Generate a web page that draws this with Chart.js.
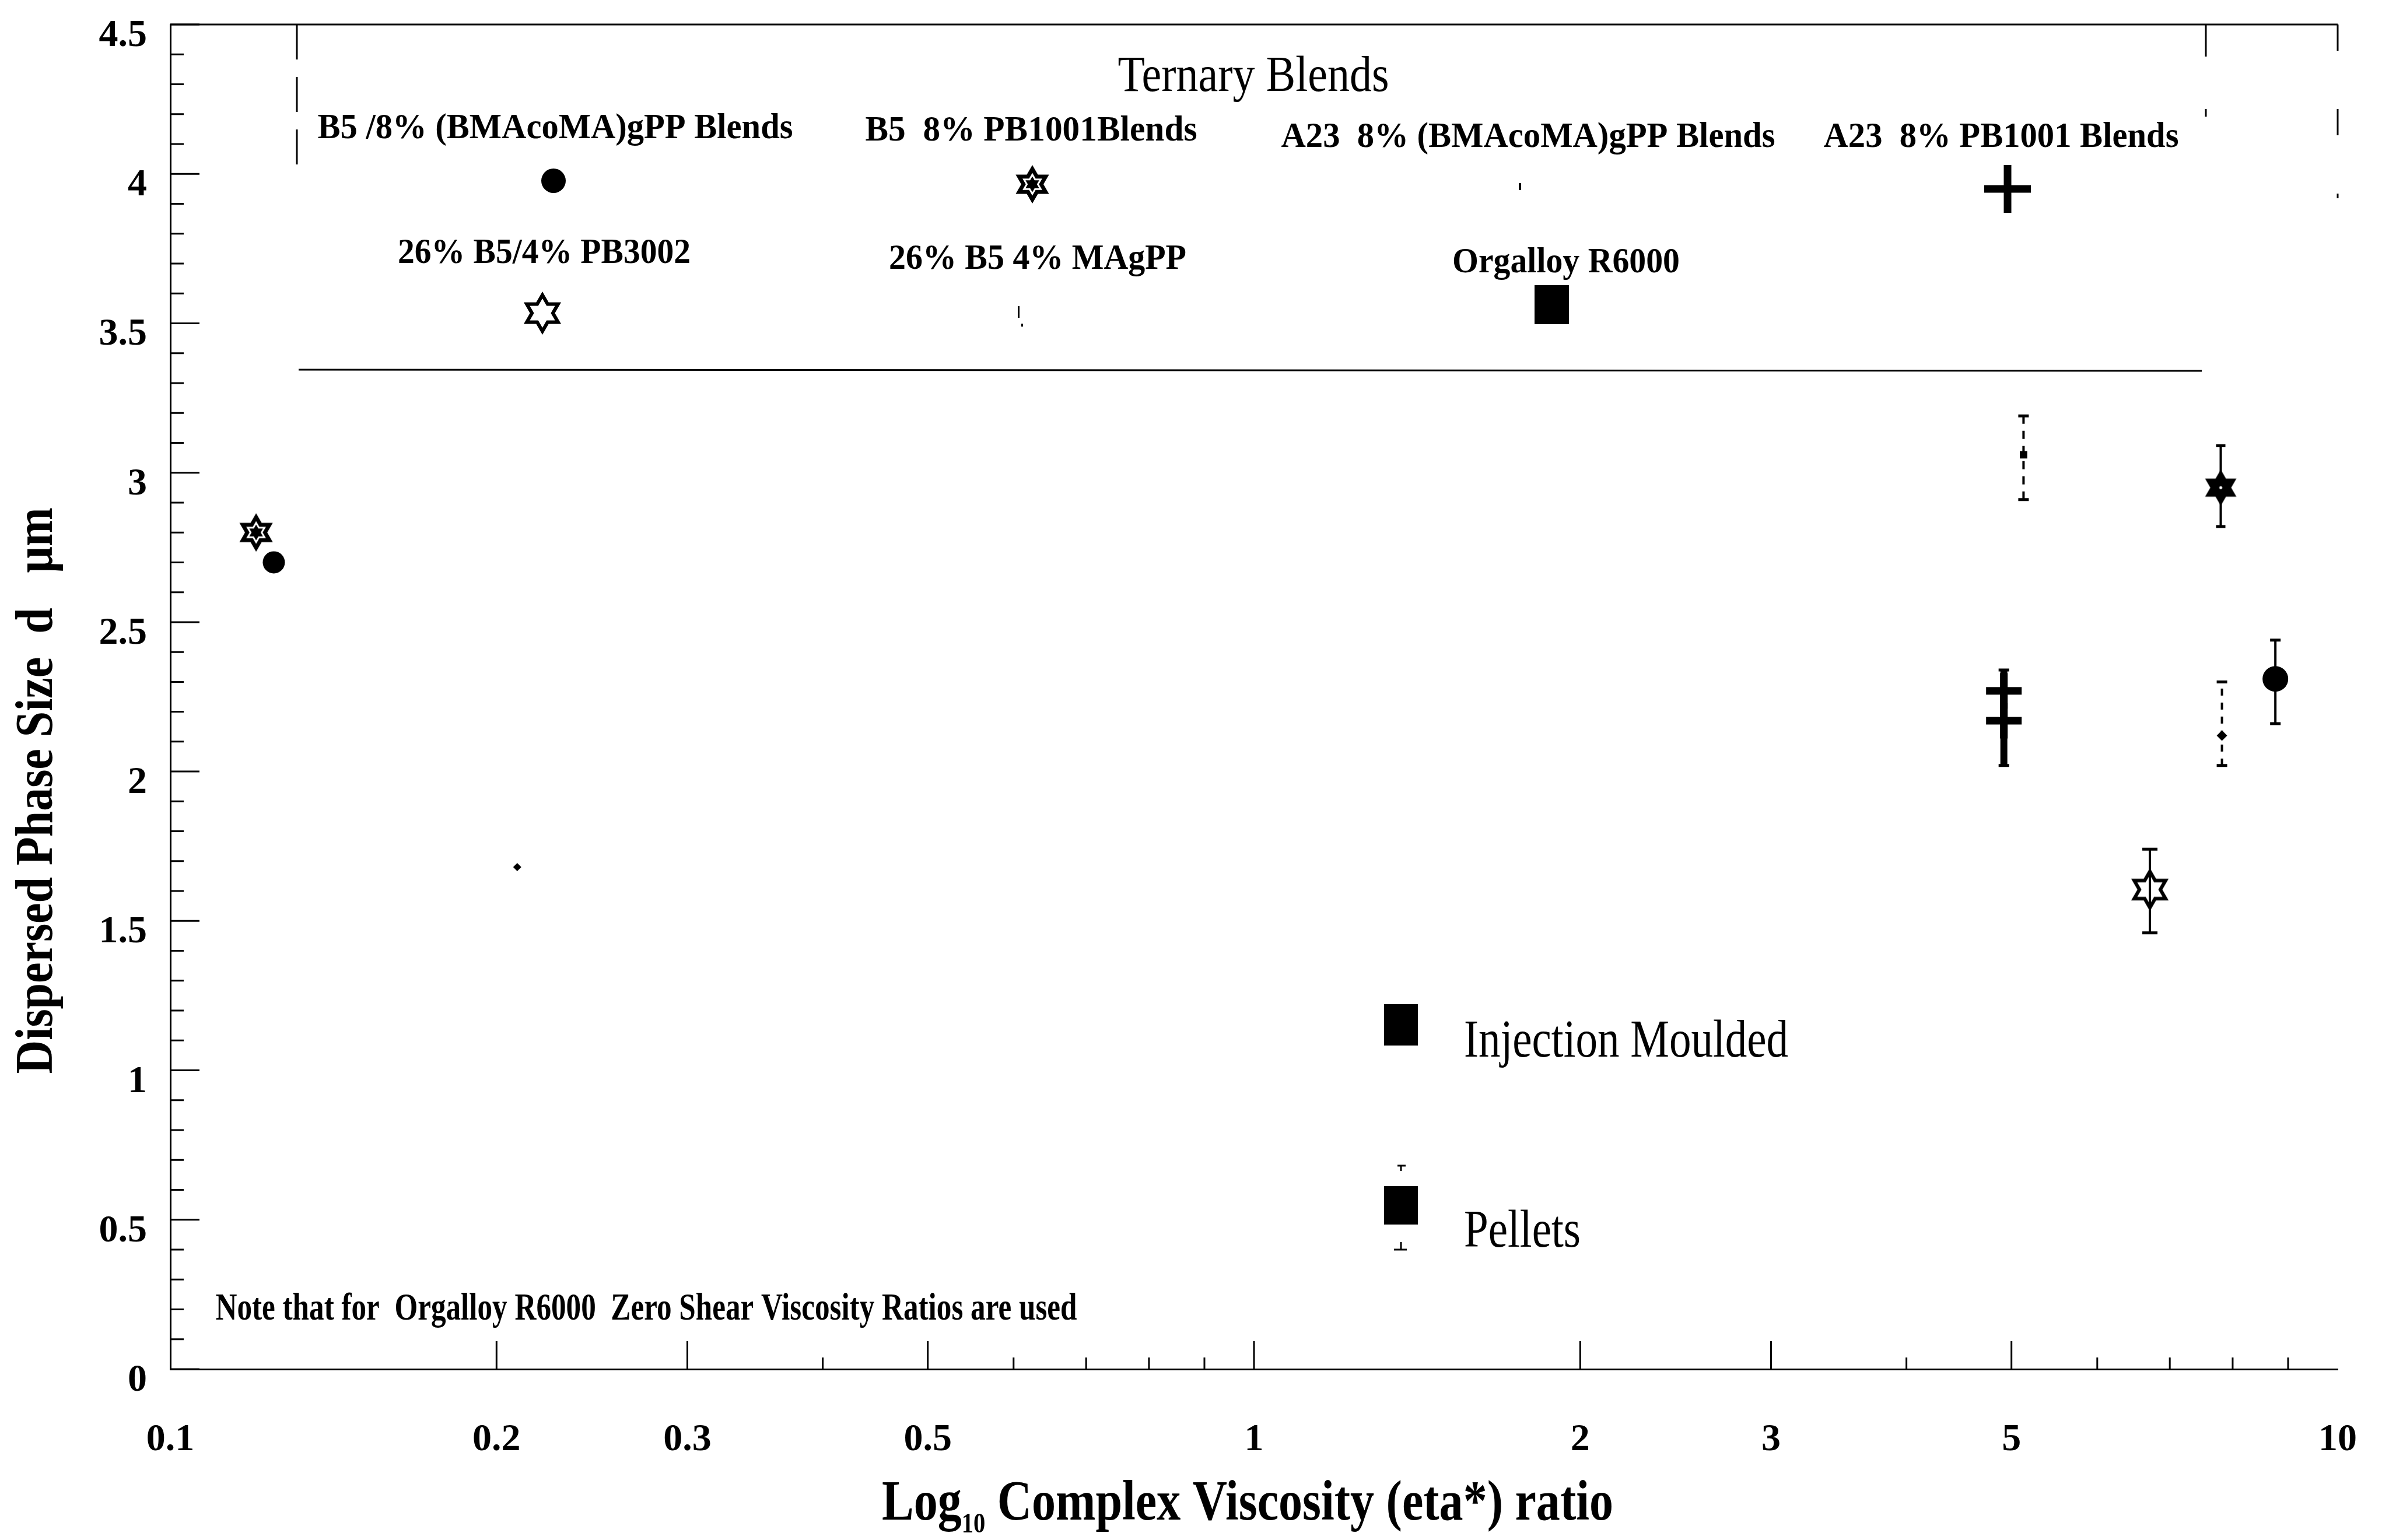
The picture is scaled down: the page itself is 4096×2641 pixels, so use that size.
<!DOCTYPE html>
<html>
<head>
<meta charset="utf-8">
<title>Dispersed Phase Size vs Complex Viscosity Ratio</title>
<script src="https://cdn.jsdelivr.net/npm/chart.js@4.4.1/dist/chart.umd.min.js"></script>
<style>
  html, body { margin: 0; padding: 0; background: #fff; }
  canvas { display: block; }
</style>
</head>
<body>
<canvas id="phaseChart" width="4096" height="2641"></canvas>
<script>
/* ============================================
   Dispersed phase size d (um) vs log10 eta* ratio
   values
   ============================================ */

var xTickVals  = [0.1, 0.2, 0.3, 0.5, 1, 2, 3, 5, 10];
var xMajorVals = [0.2, 0.3, 0.5, 1, 2, 3, 5];
var xMinorVals = [0.4, 0.6, 0.7, 0.8, 0.9, 4, 6, 7, 8, 9];
var yMin = 0, yMax = 4.5, yStep = 0.5;

var seriesNames = [
  'B5 /8% (BMAcoMA)gPP Blends',
  'B5  8% PB1001Blends',
  'A23  8% (BMAcoMA)gPP Blends',
  'A23  8% PB1001 Blends',
  '26% B5/4% PB3002',
  '26% B5 4% MAgPP',
  'Orgalloy R6000'
];

// lo/hi = error range (pellets only), null = injection moulded, no bar
var bmaX  = [0.1246, 8.76];
var bmaY  = [2.70, 2.31];
var bmaLo = [null, 2.16];
var bmaHi = [null, 2.44];

var pbX  = [0.120, 7.80];
var pbY  = [2.80, 2.95];
var pbLo = [null, 2.82];
var pbHi = [null, 3.09];

var a23bmaX  = [5.13];
var a23bmaY  = [3.06];
var a23bmaLo = [2.91];
var a23bmaHi = [3.19];

var a23pbX  = [4.92, 4.92];
var a23pbY  = [2.27, 2.17];
var a23pbLo = [2.17, 2.02];
var a23pbHi = [2.34, 2.27];

var pb3002X  = [6.71];
var pb3002Y  = [1.605];
var pb3002Lo = [1.46];
var pb3002Hi = [1.74];

var magppX  = [0.209, 7.82];
var magppY  = [1.68, 2.12];
var magppLo = [null, 2.02];
var magppHi = [null, 2.30];

function points(xs, ys, lo, hi) {
  return xs.map(function (x, i) { return { x: x, y: ys[i], lo: lo[i], hi: hi[i] }; });
}

// ---- marker images ----
function starPath(g, cx, cy, R) {
  var r = R / Math.sqrt(3);
  g.beginPath();
  for (var k = 0; k < 12; k++) {
    var a = -Math.PI / 2 + k * Math.PI / 6;
    var rad = k % 2 === 0 ? R : r;
    var px = cx + rad * Math.cos(a), py = cy + rad * Math.sin(a);
    if (k === 0) g.moveTo(px, py); else g.lineTo(px, py);
  }
  g.closePath();
}

function makeStar(R, mode) {
  var c = document.createElement('canvas');
  c.width = c.height = Math.ceil(2 * R + 12);
  var g = c.getContext('2d');
  var m = c.width / 2;
  starPath(g, m, m, R);
  if (mode === 'open') {
    g.lineWidth = 6; g.strokeStyle = '#000'; g.stroke();
  } else {
    g.fillStyle = '#000'; g.fill();
  }
  if (mode === 'pattern') {
    g.strokeStyle = '#fff'; g.lineWidth = 3;
    starPath(g, m, m, R * 0.5); g.stroke();
  }
  if (mode === 'solid') {
    g.fillStyle = '#fff'; g.beginPath(); g.arc(m, m, 2.5, 0, 2 * Math.PI); g.fill();
  }
  return c;
}

function makePlus(w, h, t) {
  var c = document.createElement('canvas');
  c.width = w + 4; c.height = h + 4;
  var g = c.getContext('2d');
  g.fillStyle = '#000';
  g.fillRect(2, (c.height - t) / 2, w, t);
  g.fillRect((c.width - t) / 2, 2, t, h);
  return c;
}

var starPattern = makeStar(33, 'pattern');
var starSolid   = makeStar(31, 'solid');
var starOpen    = makeStar(31, 'open');
var plusMark    = makePlus(61, 61, 13);
var plusLegend  = makePlus(80, 82, 13);

// ---- plugins ----
function fitText(ctx, txt, cx, cy, size, weight, width) {
  ctx.font = weight + ' ' + size + "px 'Liberation Serif', serif";
  var w = ctx.measureText(txt).width;
  ctx.save();
  ctx.translate(cx, cy);
  ctx.scale(width / w, 1);
  ctx.textAlign = 'center';
  ctx.textBaseline = 'alphabetic';
  ctx.fillStyle = '#000';
  ctx.fillText(txt, 0, size * 0.33);
  ctx.restore();
}

var errorBars = {
  id: 'errorBars',
  beforeDatasetsDraw: function (chart) {
    var ctx = chart.ctx, xs = chart.scales.x, ys = chart.scales.y;
    chart.data.datasets.forEach(function (ds) {
      var e = ds.err;
      ds.data.forEach(function (p) {
        if (p.lo == null) return;
        var x = xs.getPixelForValue(p.x);
        var y1 = ys.getPixelForValue(p.lo), y2 = ys.getPixelForValue(p.hi);
        ctx.save();
        ctx.strokeStyle = '#000';
        ctx.lineWidth = e.width;
        ctx.setLineDash(e.dash);
        ctx.beginPath(); ctx.moveTo(x, y1); ctx.lineTo(x, y2); ctx.stroke();
        ctx.setLineDash([]);
        ctx.lineWidth = 5;
        ctx.beginPath();
        ctx.moveTo(x - e.cap / 2, y1); ctx.lineTo(x + e.cap / 2, y1);
        ctx.moveTo(x - e.cap / 2, y2); ctx.lineTo(x + e.cap / 2, y2);
        ctx.stroke();
        ctx.restore();
      });
    });
  }
};

var frameAndText = {
  id: 'frameAndText',
  afterDraw: function (chart) {
    var ctx = chart.ctx, xs = chart.scales.x, ys = chart.scales.y;
    var L = xs.left, R = xs.right, B = ys.bottom, T = ys.getPixelForValue(yMax);
    ctx.save();
    ctx.strokeStyle = '#000';

    // inward y ticks, minor every 0.1
    ctx.lineWidth = 3;
    ctx.beginPath();
    for (var i = 0; i <= 45; i++) {
      var py = ys.getPixelForValue(i / 10);
      var len = i % 5 === 0 ? 50 : 23;
      ctx.moveTo(L, py); ctx.lineTo(L + len, py);
    }
    // inward x ticks
    xMajorVals.forEach(function (v) {
      var px = xs.getPixelForValue(v);
      ctx.moveTo(px, B); ctx.lineTo(px, B - 48);
    });
    xMinorVals.forEach(function (v) {
      var px = xs.getPixelForValue(v);
      ctx.moveTo(px, B); ctx.lineTo(px, B - 20);
    });
    ctx.stroke();

    // top frame line and broken right edge
    ctx.lineWidth = 3;
    ctx.beginPath(); ctx.moveTo(L, T); ctx.lineTo(R, T); ctx.stroke();
    ctx.setLineDash([45, 100]);
    ctx.beginPath(); ctx.moveTo(R, T); ctx.lineTo(R, 340); ctx.stroke();

    // "Ternary Blends" key box
    ctx.setLineDash([60, 30]);
    ctx.beginPath(); ctx.moveTo(509, T); ctx.lineTo(509, 290); ctx.stroke();
    ctx.setLineDash([55, 90]);
    ctx.beginPath(); ctx.moveTo(3782, T); ctx.lineTo(3782, 200); ctx.stroke();
    ctx.setLineDash([]);
    ctx.beginPath(); ctx.moveTo(512, 634); ctx.lineTo(3775, 636); ctx.stroke();
    ctx.restore();

    fitText(ctx, 'Ternary Blends', 2149, 128, 86, 'normal', 465);

    var keys = [
      { cx: 952,  cy: 217, w: 815, mk: 'circle',  mx: 949,  my: 310 },
      { cx: 1768, cy: 221, w: 569, mk: 'pattern', mx: 1770, my: 316 },
      { cx: 2620, cy: 232, w: 847, mk: 'dot',     mx: 2606, my: 320 },
      { cx: 3431, cy: 232, w: 609, mk: 'plus',    mx: 3442, my: 324 },
      { cx: 933,  cy: 431, w: 502, mk: 'open',    mx: 930,  my: 537 },
      { cx: 1779, cy: 441, w: 510, mk: 'faint',   mx: 1747, my: 539 },
      { cx: 2685, cy: 447, w: 390, mk: 'square',  mx: 2660, my: 522 }
    ];
    keys.forEach(function (k, i) {
      fitText(ctx, seriesNames[i], k.cx, k.cy, 62, 'bold', k.w);
      ctx.fillStyle = '#000';
      if (k.mk === 'circle') {
        ctx.beginPath(); ctx.arc(k.mx, k.my, 21, 0, 2 * Math.PI); ctx.fill();
      } else if (k.mk === 'pattern' || k.mk === 'open' || k.mk === 'plus') {
        var img = k.mk === 'pattern' ? starPattern : (k.mk === 'open' ? starOpen : plusLegend);
        ctx.drawImage(img, k.mx - img.width / 2, k.my - img.height / 2);
      } else if (k.mk === 'dot') {
        ctx.fillRect(k.mx - 2, k.my - 6, 4, 12);
      } else if (k.mk === 'faint') {
        ctx.fillRect(k.mx - 2, k.my - 14, 3, 20);
        ctx.fillRect(k.mx + 4, k.my + 16, 3, 5);
      } else if (k.mk === 'square') {
        ctx.fillRect(k.mx - 29, k.my - 33, 59, 67);
      }
    });

    // moulding key
    ctx.fillStyle = '#000';
    ctx.fillRect(2373, 1722, 58, 71);
    fitText(ctx, 'Injection Moulded', 2788, 1782, 92, 'normal', 556);
    ctx.fillRect(2373, 2034, 58, 66);
    ctx.save();
    ctx.lineWidth = 3; ctx.strokeStyle = '#000';
    ctx.beginPath();
    ctx.moveTo(2396, 1999); ctx.lineTo(2410, 1999); ctx.moveTo(2402, 1999); ctx.lineTo(2402, 2008);
    ctx.moveTo(2390, 2143); ctx.lineTo(2412, 2143); ctx.moveTo(2402, 2143); ctx.lineTo(2402, 2130);
    ctx.stroke();
    ctx.restore();
    fitText(ctx, 'Pellets', 2610, 2108, 92, 'normal', 200);

    fitText(ctx, 'Note that for  Orgalloy R6000  Zero Shear Viscosity Ratios are used',
      1108, 2241, 66, 'bold', 1477);

    // x title with subscript 10
    var parts = [
      { t: 'Log', s: 97, dy: 0 },
      { t: '10', s: 48, dy: 22 },
      { t: ' Complex Viscosity (eta*) ratio', s: 97, dy: 0 }
    ];
    var total = 0;
    parts.forEach(function (p) {
      ctx.font = "bold " + p.s + "px 'Liberation Serif', serif";
      p.w = ctx.measureText(p.t).width; total += p.w;
    });
    var sx = 1254 / total;
    ctx.save();
    ctx.translate(2139 - 627, 2574 + 32);
    ctx.scale(sx, 1);
    ctx.fillStyle = '#000'; ctx.textAlign = 'left'; ctx.textBaseline = 'alphabetic';
    var cur = 0;
    parts.forEach(function (p) {
      ctx.font = "bold " + p.s + "px 'Liberation Serif', serif";
      ctx.fillText(p.t, cur, p.dy);
      cur += p.w;
    });
    ctx.restore();

    // y title, rotated
    ctx.save();
    ctx.translate(59, 1356);
    ctx.rotate(-Math.PI / 2);
    fitText(ctx, 'Dispersed Phase Size  d   \u03bcm', 0, 0, 90, 'bold', 971);
    ctx.restore();
  }
};

var tickFont = { family: "'Liberation Serif', serif", size: 66, weight: 'bold' };

function noOverflow(s) {
  s.paddingTop = 0; s.paddingBottom = 0; s.paddingLeft = 0; s.paddingRight = 0;
}

new Chart(document.getElementById('phaseChart').getContext('2d'), {
  type: 'scatter',
  data: {
    datasets: [
      {
        label: seriesNames[0],
        data: points(bmaX, bmaY, bmaLo, bmaHi),
        pointStyle: 'circle', pointRadius: [19, 22],
        backgroundColor: '#000', borderColor: '#000', borderWidth: 0,
        err: { width: 4, cap: 18, dash: [] }
      },
      {
        label: seriesNames[1],
        data: points(pbX, pbY, pbLo, pbHi),
        pointStyle: [starPattern, starSolid],
        err: { width: 4, cap: 16, dash: [] }
      },
      {
        label: seriesNames[2],
        data: points(a23bmaX, a23bmaY, a23bmaLo, a23bmaHi),
        pointStyle: 'rect', pointRadius: 9,
        backgroundColor: '#000', borderColor: '#000', borderWidth: 0,
        err: { width: 4, cap: 18, dash: [14, 12] }
      },
      {
        label: seriesNames[3],
        data: points(a23pbX, a23pbY, a23pbLo, a23pbHi),
        pointStyle: plusMark,
        err: { width: 12, cap: 18, dash: [] }
      },
      {
        label: seriesNames[4],
        data: points(pb3002X, pb3002Y, pb3002Lo, pb3002Hi),
        pointStyle: starOpen,
        err: { width: 4, cap: 26, dash: [] }
      },
      {
        label: seriesNames[5],
        data: points(magppX, magppY, magppLo, magppHi),
        pointStyle: 'rectRot', pointRadius: [7, 9],
        backgroundColor: '#000', borderColor: '#000', borderWidth: 0,
        err: { width: 4, cap: 18, dash: [12, 12] }
      }
    ]
  },
  options: {
    responsive: false,
    animation: false,
    devicePixelRatio: 1,
    events: [],
    layout: { padding: { left: 0, right: 88, top: 42, bottom: 0 } },
    plugins: {
      legend: { display: false },
      tooltip: { enabled: false }
    },
    scales: {
      x: {
        type: 'logarithmic',
        min: 0.1,
        max: 10,
        grid: { display: false, drawTicks: false },
        border: { display: true, color: '#000', width: 3 },
        afterBuildTicks: function (axis) {
          axis.ticks = xTickVals.map(function (v) { return { value: v }; });
        },
        afterFit: function (s) { s.height = 293; noOverflow(s); },
        ticks: {
          color: '#000',
          font: tickFont,
          padding: 82,
          maxRotation: 0,
          autoSkip: false,
          callback: function (v) { return String(v); }
        }
      },
      y: {
        min: yMin,
        max: yMax,
        grid: { display: false, drawTicks: false },
        border: { display: true, color: '#000', width: 3 },
        afterFit: function (s) { s.width = 292; noOverflow(s); },
        ticks: {
          stepSize: yStep,
          color: '#000',
          font: tickFont,
          padding: 40,
          labelOffset: 20,
          callback: function (v) { return String(v); }
        }
      }
    }
  },
  plugins: [errorBars, frameAndText]
});
</script>
</body>
</html>
